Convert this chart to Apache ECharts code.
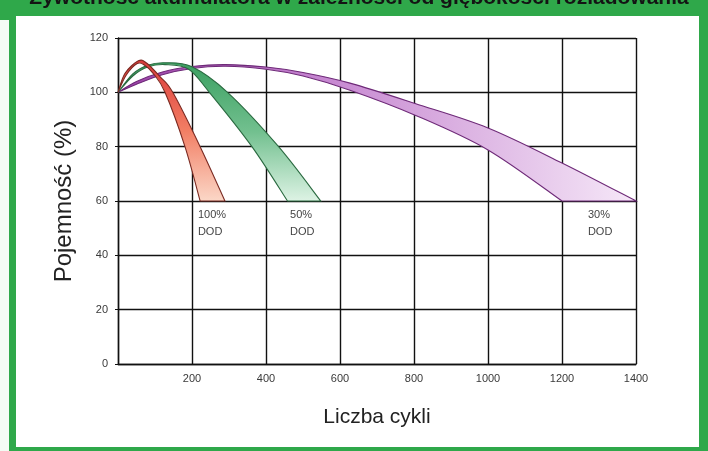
<!DOCTYPE html>
<html>
<head>
<meta charset="utf-8">
<script src="https://cdn.jsdelivr.net/npm/echarts@6/dist/echarts.min.js"></script>
<style>
html,body{margin:0;padding:0;background:#fff;}
#chart{width:708px;height:451px;}
</style>
</head>
<body>
<div id="chart"></div>
<script>
// ---- data (cycles, capacity %) ----
const TITLE = 'Żywotność akumulatora w zależności od głębokości rozładowania';
const X_NAME = 'Liczba cykli';
const Y_NAME = 'Pojemność (%)';
const X_TICKS = [200, 400, 600, 800, 1000, 1200, 1400];
const Y_TICKS = [0, 20, 40, 60, 80, 100, 120];

// 100% DOD band
const RED_UPPER = [[0,100],[19,107],[55,111.6],[78,110.7],[114,105.7],[148,100],[222,80],[289,60]];
const RED_LOWER = [[0,100],[22,106.3],[52,110.6],[72,110],[95,107],[127,100],[181,80],[222,60]];
// 50% DOD band
const GREEN_UPPER = [[0,100],[40,106.8],[80,110],[127,110.9],[200,109.4],[296,100],[434,80],[548,60]];
const GREEN_LOWER = [[0,100],[40,106],[80,109.3],[127,110.2],[190,108.6],[247,100],[362,80],[458,60]];
// 30% DOD band
const PURPLE_UPPER = [[0,100],[50,104],[120,107.5],[200,109.5],[290,110.2],[400,109.3],[500,107.3],[627,103.4],[803,95.9],[1000,86.9],[1200,74],[1400,60]];
const PURPLE_LOWER = [[0,100],[50,103],[120,106.5],[200,108.8],[290,109.6],[400,108.5],[500,106],[627,100.8],[803,91.6],[1000,78.8],[1200,60]];

const LABEL_X = [216, 465, 1270];
const LABEL_Y = [58, 58, 58];
const LABEL_TEXT = ['100%\nDOD', '50%\nDOD', '30%\nDOD'];

// ---- rendering ----
const chart = echarts.init(document.getElementById('chart'), null, {renderer:'canvas'});
const NARROW = "'Liberation Sans Narrow','Arial Narrow','Liberation Sans',Arial,sans-serif";
const SANS = "'Liberation Sans',Arial,sans-serif";

function splinePath(pts, moveFirst) {
  let d = moveFirst ? 'M' + pts[0][0] + ' ' + pts[0][1] : 'L' + pts[0][0] + ' ' + pts[0][1];
  for (let i = 0; i < pts.length - 1; i++) {
    const p0 = pts[Math.max(i - 1, 0)], p1 = pts[i], p2 = pts[i + 1], p3 = pts[Math.min(i + 2, pts.length - 1)];
    const c1x = p1[0] + (p2[0] - p0[0]) / 6, c1y = p1[1] + (p2[1] - p0[1]) / 6;
    const c2x = p2[0] - (p3[0] - p1[0]) / 6, c2y = p2[1] - (p3[1] - p1[1]) / 6;
    d += ' C' + c1x + ' ' + c1y + ' ' + c2x + ' ' + c2y + ' ' + p2[0] + ' ' + p2[1];
  }
  return d;
}

const BANDS = [
  {upper: PURPLE_UPPER, lower: PURPLE_LOWER, stroke: '#6e2a78',
   fill: new echarts.graphic.LinearGradient(0,0,1,0,[{offset:0,color:'#9a3fa6'},{offset:0.35,color:'#c27fcd'},{offset:1,color:'#f6e8f8'}])},
  {upper: GREEN_UPPER, lower: GREEN_LOWER, stroke: '#2a6a40',
   fill: new echarts.graphic.LinearGradient(0,0,0,1,[{offset:0,color:'#3a9f60'},{offset:0.5,color:'#72c08f'},{offset:1,color:'#def3e5'}])},
  {upper: RED_UPPER, lower: RED_LOWER, stroke: '#7a2a22',
   fill: new echarts.graphic.LinearGradient(0,0,0,1,[{offset:0,color:'#dc3a3a'},{offset:0.5,color:'#f27e64'},{offset:1,color:'#fbd8c8'}])}
];

const bandSeries = BANDS.map(function (b, k) {
  return {
    type: 'custom',
    coordinateSystem: 'cartesian2d',
    data: b.upper.concat(b.lower),
    z: 3 + k,
    silent: true,
    renderItem: function (params, api) {
      if (params.dataIndex !== 0) return;
      const up = b.upper.map(function (p) { return api.coord(p); });
      const lo = b.lower.map(function (p) { return api.coord(p); }).reverse();
      const d = splinePath(up, true) + ' ' + splinePath(lo, false) + ' Z';
      return {
        type: 'path',
        shape: {pathData: d},
        style: {fill: b.fill, stroke: b.stroke, lineWidth: 1.1}
      };
    }
  };
});

const labelSeries = {
  type: 'custom',
  coordinateSystem: 'cartesian2d',
  data: LABEL_X.map(function (x, i) { return [x, LABEL_Y[i], LABEL_TEXT[i]]; }),
  z: 10,
  silent: true,
  renderItem: function (params, api) {
    const p = api.coord([api.value(0), api.value(1)]);
    return {
      type: 'text',
      x: p[0], y: p[1],
      style: {text: LABEL_TEXT[params.dataIndex], fill: '#444', font: '11px ' + NARROW,
              align: 'left', verticalAlign: 'top', lineHeight: 17}
    };
  }
};

const option = {
  backgroundColor: '#ffffff',
  animation: false,
  graphic: [
    {type:'rect', shape:{x:0,y:0,width:708,height:451}, style:{fill:'#2fa84a'}, z:-10},
    {type:'rect', shape:{x:16,y:16,width:683,height:431}, style:{fill:'#ffffff'}, z:-9},
    {type:'rect', shape:{x:0,y:20,width:9,height:431}, style:{fill:'#f4fbf4'}, z:-9},
    {type:'text', x:359, y:9, z:-8, style:{text: TITLE, font:'bold 21px ' + SANS, fill:'#141414', align:'center', verticalAlign:'bottom'}}
  ],
  grid: {left:118, right:72, top:38, bottom:87, show:false},
  xAxis: {
    type:'value', min:0, max:1400, interval:200,
    name: X_NAME, nameLocation:'middle', nameGap:43,
    nameTextStyle:{fontFamily:SANS, fontSize:21, color:'#222'},
    axisLine:{show:true, lineStyle:{color:'#111', width:1.4}},
    axisTick:{show:false},
    axisLabel:{margin:9, fontFamily:NARROW, fontSize:11, color:'#3a3a3a',
      formatter:function(v){ return X_TICKS.indexOf(v) >= 0 ? String(v) : ''; }},
    splitLine:{show:true, lineStyle:{color:'#111', width:1.4}}
  },
  yAxis: {
    type:'value', min:0, max:120, interval:20,
    name: Y_NAME, nameLocation:'middle', nameGap:42, nameRotate:90,
    nameTextStyle:{fontFamily:SANS, fontSize:24, color:'#222'},
    axisLine:{show:true, lineStyle:{color:'#111', width:1.4}},
    axisTick:{show:true, length:3, lineStyle:{color:'#111'}},
    axisLabel:{margin:10, fontFamily:NARROW, fontSize:11, color:'#3a3a3a',
      formatter:function(v){ return Y_TICKS.indexOf(v) >= 0 ? String(v) : ''; }},
    splitLine:{show:true, lineStyle:{color:'#111', width:1.4}}
  },
  series: bandSeries.concat([labelSeries])
};
chart.setOption(option);
</script>
</body>
</html>
